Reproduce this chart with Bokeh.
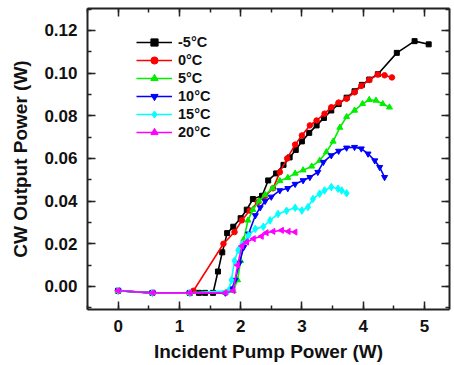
import math
from bokeh.plotting import figure
from bokeh.models import (Range1d, LinearAxis, Legend, LegendItem, SingleIntervalTicker,
                          CustomJSTickFormatter, CustomLabelingPolicy)
from bokeh.embed import file_html
from bokeh.resources import INLINE

# ---- data ----
m5_x = [0, 0.56, 1.17, 1.32, 1.42, 1.55, 1.63, 1.70, 1.78, 1.88, 2.00, 2.10, 2.20, 2.35, 2.45, 2.58,
        2.70, 2.80, 2.90, 3.00, 3.12, 3.24, 3.36, 3.48, 3.60, 3.73, 3.86, 3.98, 4.10, 4.24, 4.55, 4.84, 5.07]
m5_y = [-0.002, -0.003, -0.003, -0.003, -0.003, -0.003, 0.007, 0.016, 0.025, 0.028, 0.032, 0.036, 0.041,
        0.0425, 0.0497, 0.053, 0.057, 0.0605, 0.064, 0.068, 0.072, 0.0755, 0.079, 0.0825, 0.0855, 0.0885,
        0.0915, 0.0945, 0.097, 0.0995, 0.1095, 0.115, 0.1135]

p0_x = [0, 0.56, 1.17, 1.23, 1.72, 1.90, 2.02, 2.15, 2.28, 2.40, 2.53, 2.64, 2.76, 2.89, 3.00, 3.13,
        3.24, 3.37, 3.48, 3.60, 3.73, 3.86, 3.97, 4.10, 4.24, 4.35, 4.47]
p0_y = [-0.002, -0.003, -0.003, -0.002, 0.020, 0.0255, 0.031, 0.0356, 0.0395, 0.0425, 0.046, 0.0536,
        0.060, 0.0665, 0.0708, 0.0755, 0.0778, 0.081, 0.084, 0.0862, 0.088, 0.091, 0.094, 0.0968, 0.0994,
        0.099, 0.098]

p5_x = [0, 0.56, 1.17, 1.75, 1.88, 1.95, 2.00, 2.05, 2.12, 2.20, 2.30, 2.40, 2.52, 2.64, 2.77, 2.89,
        3.02, 3.16, 3.29, 3.40, 3.51, 3.62, 3.73, 3.86, 3.99, 4.10, 4.21, 4.32, 4.43]
p5_y = [-0.002, -0.003, -0.003, -0.003, -0.002, 0.003, 0.012, 0.022, 0.031, 0.036, 0.040, 0.043, 0.046,
        0.0495, 0.051, 0.053, 0.0545, 0.0563, 0.059, 0.063, 0.068, 0.0745, 0.0795, 0.0825, 0.0856, 0.0875,
        0.0872, 0.0856, 0.084]

p10_x = [0, 0.56, 1.17, 1.75, 1.86, 1.91, 1.98, 2.05, 2.13, 2.24, 2.32, 2.40, 2.50, 2.64, 2.77, 2.89,
         3.02, 3.13, 3.26, 3.35, 3.48, 3.60, 3.73, 3.86, 3.97, 4.08, 4.19, 4.27, 4.35]
p10_y = [-0.002, -0.003, -0.003, -0.003, -0.001, 0.003, 0.011, 0.0184, 0.0247, 0.0333, 0.037, 0.040,
         0.042, 0.045, 0.046, 0.048, 0.0497, 0.0512, 0.0536, 0.0583, 0.0614, 0.0635, 0.065, 0.0653, 0.0646,
         0.0622, 0.059, 0.0559, 0.0512]

p15_x = [0, 0.56, 1.17, 1.80, 1.85, 1.90, 1.96, 2.03, 2.13, 2.24, 2.37, 2.48, 2.61, 2.75, 2.89, 3.00,
         3.10, 3.18, 3.29, 3.37, 3.48, 3.59, 3.65, 3.73]
p15_y = [-0.002, -0.003, -0.003, -0.002, 0.003, 0.012, 0.017, 0.020, 0.024, 0.027, 0.028, 0.031, 0.034,
         0.0355, 0.0369, 0.0356, 0.0372, 0.041, 0.0435, 0.045, 0.0466, 0.0458, 0.045, 0.0437]

p20_x = [0, 0.56, 1.17, 1.75, 1.88, 1.95, 2.02, 2.10, 2.21, 2.34, 2.42, 2.53, 2.67, 2.78, 2.89]
p20_y = [-0.002, -0.003, -0.003, -0.003, -0.002, 0.010, 0.019, 0.0208, 0.0224, 0.0235, 0.0252, 0.0258,
         0.0263, 0.0258, 0.0255]

labels = ["-5°C", "0°C", "5°C", "10°C", "15°C", "20°C"]

FONT = "Liberation Sans"
AX = "#222222"

p = figure(width=454, height=365, output_backend="svg", toolbar_location=None,
           x_range=Range1d(-0.5, 5.41), y_range=Range1d(-0.0108, 0.1303),
           min_border_left=87, min_border_right=0, min_border_top=8, min_border_bottom=56,
           outline_line_color=None)
p.grid.visible = False
p.background_fill_color = "white"

series = [
    (m5_x, m5_y, "black", "square", 0.0, 5),
    (p0_x, p0_y, "#ff0000", "circle", 0.0, 5.5),
    (p5_x, p5_y, "#00ee00", "triangle", 0.0, 6),
    (p10_x, p10_y, "#0000ff", "inverted_triangle", 0.0, 6),
    (p15_x, p15_y, "#00ffff", "diamond", 0.0, 7.5),
    (p20_x, p20_y, "#ff00ff", "triangle", math.pi / 2, 6),
]

items = []
for (xs, ys, col, mk, ang, sz), lab in zip(series, labels):
    ln = p.line(xs, ys, line_color=col, line_width=1.6)
    sc = p.scatter(xs, ys, marker=mk, size=sz, angle=ang, fill_color=col, line_color=col)
    items.append(LegendItem(label=lab, renderers=[ln, sc]))

legend = Legend(items=items, location=(49, 168), padding=0, margin=0, spacing=0,
                glyph_width=36, glyph_height=18, label_height=18, label_standoff=6,
                border_line_color=None, background_fill_alpha=0,
                label_text_font=FONT, label_text_font_style="bold", label_text_font_size="14.5px",
                label_text_color="#111111")
p.add_layout(legend)

xt = SingleIntervalTicker(interval=1, num_minor_ticks=2)
yt = SingleIntervalTicker(interval=0.02, num_minor_ticks=2)

def style(ax, show_labels):
    ax.axis_line_color = AX
    ax.axis_line_width = 2
    ax.major_tick_line_color = AX
    ax.minor_tick_line_color = AX
    ax.major_tick_line_width = 1.5
    ax.minor_tick_line_width = 1.5
    ax.major_tick_in = 8
    ax.major_tick_out = 0
    ax.minor_tick_in = 4
    ax.minor_tick_out = 0
    if show_labels:
        ax.major_label_text_font = FONT
        ax.major_label_text_font_style = "bold"
        ax.major_label_text_font_size = "17px"
        ax.major_label_text_color = "#111111"
        ax.axis_label_text_font = FONT
        ax.axis_label_text_font_style = "bold"
        ax.axis_label_text_font_size = "19px"
        ax.axis_label_text_color = "#111111"
    else:
        ax.major_label_text_font_size = "1px"
        ax.major_label_standoff = 0
        ax.major_label_policy = CustomLabelingPolicy(code="return new Set()")
        ax.axis_label = None

xa = p.xaxis[0]
xa.ticker = xt
xa.axis_label = "Incident Pump Power (W)"
style(xa, True)
xa.major_label_standoff = 10
xa.axis_label_standoff = 6

ya = p.yaxis[0]
ya.ticker = yt
ya.axis_label = "CW Output Power (W)"
style(ya, True)
ya.major_label_standoff = 10
ya.axis_label_standoff = 10
ya.formatter = CustomJSTickFormatter(code="return tick.toFixed(2);")

top = LinearAxis(ticker=SingleIntervalTicker(interval=1, num_minor_ticks=2))
style(top, False)
p.add_layout(top, "above")
right = LinearAxis(ticker=SingleIntervalTicker(interval=0.02, num_minor_ticks=2))
style(right, False)
p.add_layout(right, "right")

open("out.html", "w").write(file_html(p, INLINE))
